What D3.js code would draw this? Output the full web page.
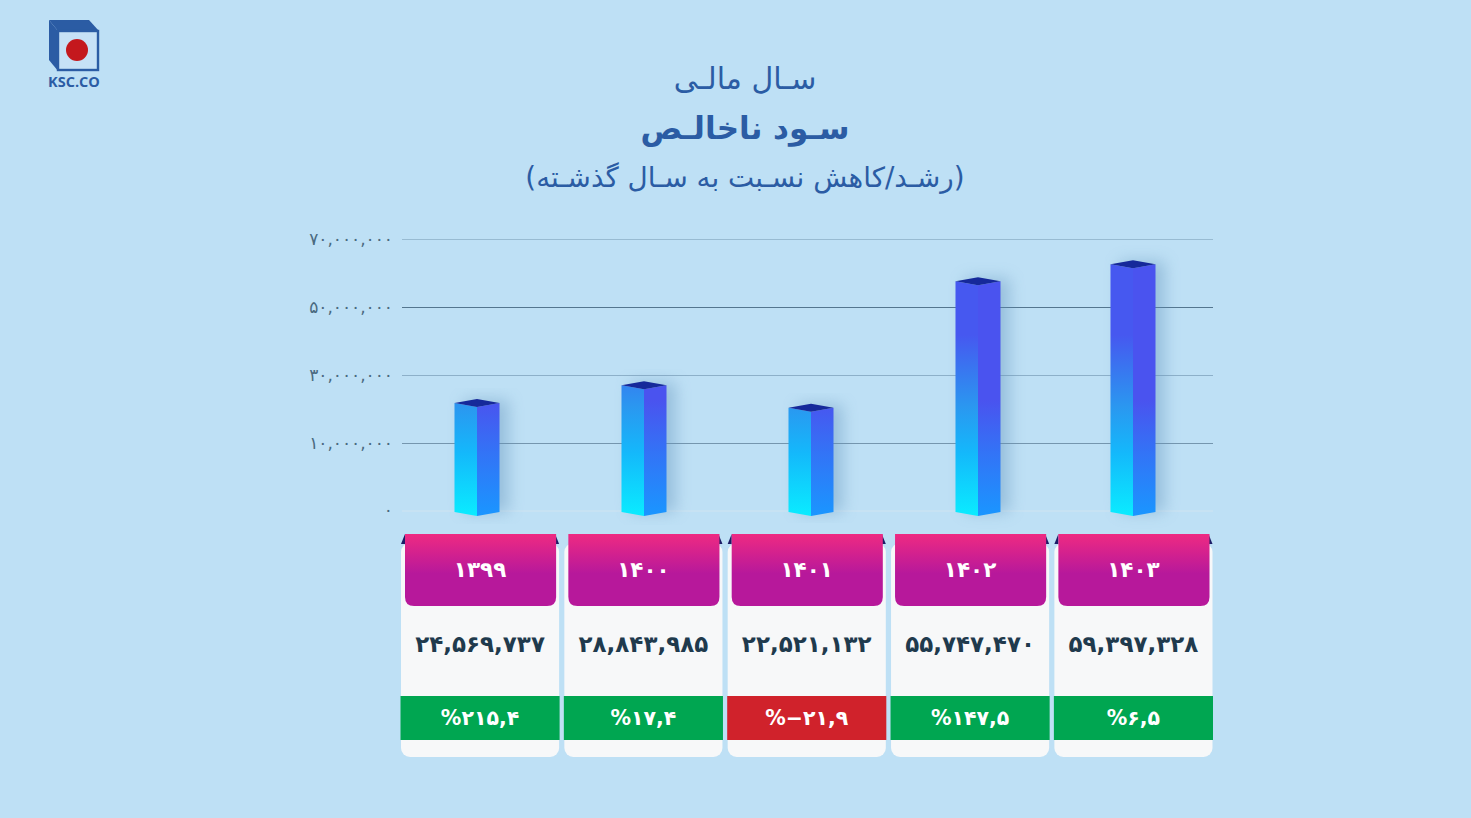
<!DOCTYPE html>
<html>
<head>
<meta charset="utf-8">
<script src="https://cdnjs.cloudflare.com/ajax/libs/d3/7.8.5/d3.min.js"></script>
<style>
  html, body { margin: 0; padding: 0; background: #bee0f5; }
  svg { display: block; }
  text { font-family: "DejaVu Sans", sans-serif; }
  .logo-text { font-family: "Open Sans", sans-serif; font-weight: 700; }
  .tick text { fill: #4a6a80; font-size: 17px; letter-spacing: 0.9px; }
</style>
</head>
<body>
<svg id="chart" width="1471" height="818"></svg>
<script>
const years = [1399, 1400, 1401, 1402, 1403];
const netProfit = [24569737, 28843985, 22521132, 55747470, 59397328];
// bar heights read against the drawn axis, they don't agree with the printed figures
const barLevels = [21800000, 27000000, 20400000, 57600000, 62600000];
const growth = [215.4, 17.4, -21.9, 147.5, 6.5];
const tickValues = [0, 10000000, 30000000, 50000000, 70000000];
const tickColors = ['#cfe4f1', '#7596ae', '#8db0c9', '#54768f', '#98bbd2'];
const titles = ['سـال مالـی', 'سـود ناخالـص', '(رشـد/کاهش نسـبت به سـال گذشـته)'];

const toFa = s => String(s).replace(/\d/g, d => '۰۱۲۳۴۵۶۷۸۹'[d]);
const fmtInt = d => toFa(d3.format(',')(d));
const fmtPct = d => '%' + toFa(d3.format('.1f')(d).replace('.', ','));

const svg = d3.select('#chart');
const defs = svg.append('defs');

svg.append('rect').attr('width', 1471).attr('height', 818).attr('fill', '#bee0f5');

// logo
const logo = svg.append('g').attr('fill', '#2b5ca4');
logo.append('path').attr('d', 'M49,20 L89,20 L99,31 L58,31 Z');
logo.append('path').attr('d', 'M49,20 L58,31 L58,71 L49,60 Z');
logo.append('rect').attr('x', 58).attr('y', 31).attr('width', 40).attr('height', 39)
  .attr('fill', '#c6e1f6').attr('stroke', '#2b5ca4').attr('stroke-width', 2.4);
logo.append('circle').attr('cx', 77).attr('cy', 50).attr('r', 11).attr('fill', '#c4181d');
logo.append('text').attr('class', 'logo-text').attr('x', 74).attr('y', 87)
  .attr('text-anchor', 'middle').attr('font-size', 14.5).text('KSC.CO');

// titles
const titleStyle = [
  { y: 89, size: 30, weight: 400 },
  { y: 139, size: 31, weight: 700 },
  { y: 187, size: 27.8, weight: 400 }
];
svg.selectAll('.title').data(titles).join('text')
  .attr('class', 'title')
  .attr('x', 745)
  .attr('y', (d, i) => titleStyle[i].y)
  .attr('text-anchor', 'middle')
  .attr('direction', 'rtl')
  .attr('fill', '#2b5ca4')
  .attr('font-size', (d, i) => titleStyle[i].size)
  .attr('font-weight', (d, i) => titleStyle[i].weight)
  .text(d => d);

// axis, ticks are evenly spaced even though the labels are not
const y = d3.scaleLinear().domain(tickValues).range([510.5, 443, 375, 307, 239]);
const axis = d3.axisLeft(y)
  .tickValues(tickValues)
  .tickFormat(fmtInt)
  .tickSize(-811)
  .tickPadding(9);
const axisG = svg.append('g').attr('transform', 'translate(402,0)').call(axis);
axisG.select('.domain').remove();
axisG.selectAll('.tick line').attr('stroke', (d, i) => tickColors[i]).attr('stroke-width', 1);

// bars
const barX = d3.scaleLinear().domain([1399, 1402, 1403]).range([477, 978, 1133]);
const halfW = 22.5;
const skew = 4;
const baseY = y(0) + 1.5;

const gradLeft = defs.append('linearGradient').attr('id', 'faceLeft')
  .attr('gradientUnits', 'userSpaceOnUse').attr('x1', 0).attr('x2', 0).attr('y1', 516).attr('y2', 335);
[[0, '#0aecff'], [0.35, '#14b8fb'], [0.6, '#2a98f0'], [1, '#4658f0']].forEach(s =>
  gradLeft.append('stop').attr('offset', s[0]).attr('stop-color', s[1]));
const gradRight = defs.append('linearGradient').attr('id', 'faceRight')
  .attr('gradientUnits', 'userSpaceOnUse').attr('x1', 0).attr('x2', 0).attr('y1', 516).attr('y2', 400);
[[0, '#1a96ff'], [0.55, '#3373f6'], [1, '#4a53ef']].forEach(s =>
  gradRight.append('stop').attr('offset', s[0]).attr('stop-color', s[1]));
defs.append('filter').attr('id', 'barShadow')
  .attr('x', '-80%').attr('y', '-10%').attr('width', '260%').attr('height', '120%')
  .append('feGaussianBlur').attr('stdDeviation', 8);

const bars = svg.selectAll('.bar').data(years.map((yr, i) => ({ yr, v: barLevels[i] })))
  .join('g').attr('class', 'bar');
bars.append('rect')
  .attr('x', d => barX(d.yr) - halfW + 9)
  .attr('y', d => y(d.v) - 3)
  .attr('width', halfW * 2)
  .attr('height', d => baseY - y(d.v) + 3)
  .attr('fill', '#5f8fb8').attr('opacity', 0.42)
  .attr('filter', 'url(#barShadow)');
bars.append('path').attr('fill', 'url(#faceLeft)')
  .attr('d', d => {
    const x = barX(d.yr), t = y(d.v);
    return `M${x - halfW},${t} L${x},${t + skew} L${x},${baseY + skew} L${x - halfW},${baseY} Z`;
  });
bars.append('path').attr('fill', 'url(#faceRight)')
  .attr('d', d => {
    const x = barX(d.yr), t = y(d.v);
    return `M${x + halfW},${t} L${x},${t + skew} L${x},${baseY + skew} L${x + halfW},${baseY} Z`;
  });
bars.append('path').attr('fill', '#16299a')
  .attr('d', d => {
    const x = barX(d.yr), t = y(d.v);
    return `M${x - halfW},${t} L${x},${t - skew} L${x + halfW},${t} L${x},${t + skew} Z`;
  });

// cards under the bars
const card = d3.scaleBand().domain(years).range([401, 1212.5]).paddingInner(0.032);
const headGrad = defs.append('linearGradient').attr('id', 'headFill').attr('x1', 0).attr('x2', 0).attr('y1', 0).attr('y2', 1);
[[0, '#ee2a82'], [0.55, '#b7189b'], [1, '#b7189b']].forEach(s =>
  headGrad.append('stop').attr('offset', s[0]).attr('stop-color', s[1]));

const cards = svg.selectAll('.card').data(years.map((yr, i) => ({ yr, i })))
  .join('g').attr('class', 'card')
  .attr('transform', d => `translate(${card(d.yr)},0)`);
const w = card.bandwidth();

cards.append('rect').attr('y', 543).attr('width', w).attr('height', 214).attr('rx', 9)
  .attr('fill', '#f7f8f9');
// folded corners of the ribbon
cards.append('path').attr('fill', '#1c1c66')
  .attr('d', d => d.i % 2 === 0 ? 'M0,544 L4,534 L4,544 Z' : '');
cards.append('path').attr('fill', '#1c1c66')
  .attr('d', `M${w},544 L${w - 4},534 L${w - 4},544 Z`);
cards.append('path').attr('fill', 'url(#headFill)')
  .attr('d', `M4,534 H${w - 3} V597 Q${w - 3},606 ${w - 12},606 H13 Q4,606 4,597 Z`);
cards.append('rect').attr('x', -0.5).attr('y', 696).attr('width', w + 1).attr('height', 44)
  .attr('fill', (d) => growth[d.i] < 0 ? '#d0222b' : '#00a651');

cards.append('text').attr('x', w / 2).attr('y', 577).attr('text-anchor', 'middle')
  .attr('fill', '#fff').attr('font-size', 21.5).attr('font-weight', 700)
  .text(d => toFa(d.yr));
cards.append('text').attr('x', w / 2).attr('y', 652).attr('text-anchor', 'middle')
  .attr('fill', '#1f3a4d').attr('font-size', 23).attr('font-weight', 700)
  .text(d => fmtInt(netProfit[d.i]));
cards.append('text').attr('x', w / 2).attr('y', 725).attr('text-anchor', 'middle')
  .attr('fill', '#fff').attr('font-size', 20.5).attr('font-weight', 700)
  .text(d => fmtPct(growth[d.i]));
</script>
</body>
</html>
